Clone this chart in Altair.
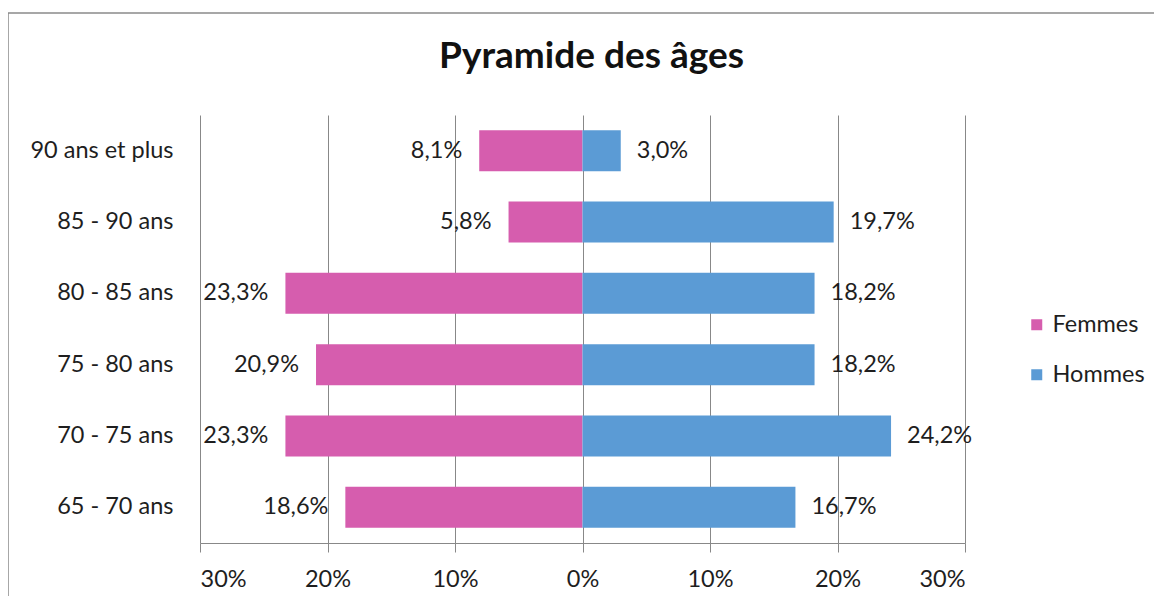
import altair as alt
import pandas as pd

ages = ["90 ans et plus", "85 - 90 ans", "80 - 85 ans", "75 - 80 ans", "70 - 75 ans", "65 - 70 ans"]
femmes = [8.1, 5.8, 23.3, 20.9, 23.3, 18.6]
hommes = [3.0, 19.7, 18.2, 18.2, 24.2, 16.7]
series = ["Femmes", "Hommes"]
colors = ["#D65DAE", "#5B9BD5"]
ticks = [-30, -20, -10, 0, 10, 20, 30]

rows = []
for a, f, h in zip(ages, femmes, hommes):
    rows.append({"age": a, "sexe": "Femmes", "v": -f})
    rows.append({"age": a, "sexe": "Hommes", "v": h})
df = pd.DataFrame(rows)

FONT = "Lato"
GRID = "#888888"
TXT = "#1e1e1e"
FS = 23.5

base = alt.Chart(df)

y_enc = alt.Y("age:N", sort=ages, title=None,
              scale=alt.Scale(paddingInner=0.425, paddingOuter=0.2125),
              axis=alt.Axis(domain=False, ticks=False, labelPadding=27,
                            labelFontSize=FS, labelColor=TXT, labelFont=FONT))

bars = base.mark_bar().encode(
    x=alt.X("v:Q", title=None,
            scale=alt.Scale(domain=[-30, 30], nice=False),
            axis=alt.Axis(values=ticks, labelExpr="abs(datum.value) + '%'",
                          grid=True, gridColor=GRID, domainColor=GRID, tickColor=GRID,
                          tickSize=9, labelPadding=15, labelFontSize=FS,
                          labelColor=TXT, labelFont=FONT)),
    y=y_enc,
    color=alt.Color("sexe:N", sort=series,
                    scale=alt.Scale(domain=series, range=colors),
                    legend=alt.Legend(title=None, orient="none", legendX=825, legendY=198,
                                      symbolType="square", symbolSize=121,
                                      symbolStrokeWidth=0, labelFontSize=FS,
                                      labelFont=FONT, labelColor=TXT,
                                      rowPadding=25, labelOffset=4)),
)

lab_expr = "replace(format(abs(datum.v), '.1f'), '.', ',') + '%'"

text_f = base.transform_filter("datum.sexe == 'Femmes'").transform_calculate(
    lab=lab_expr
).mark_text(align="right", baseline="middle", dx=-17, fontSize=FS, font=FONT,
            color=TXT).encode(x="v:Q", y=alt.Y("age:N", sort=ages), text="lab:N")

text_h = base.transform_filter("datum.sexe == 'Hommes'").transform_calculate(
    lab=lab_expr
).mark_text(align="left", baseline="middle", dx=16, fontSize=FS, font=FONT,
            color=TXT).encode(x="v:Q", y=alt.Y("age:N", sort=ages), text="lab:N")

frame = alt.Chart(alt.Data(values=[{}])).mark_rect(
    fill=None, stroke="#8a8a8a", strokeWidth=1.5
).encode(x=alt.value(-192), x2=alt.value(1000), y=alt.value(-102), y2=alt.value(600))

chart = alt.layer(frame, bars, text_f, text_h).properties(
    width=765, height=428,
    title=alt.TitleParams("Pyramide des âges", font=FONT, fontSize=37, fontWeight="bold",
                          color="#111111", anchor="middle", offset=-64, dx=9),
    autosize=alt.AutoSizeParams(type="none"),
    padding={"left": 192, "top": 107, "right": 189, "bottom": 53},
    background="white",
).configure_view(stroke=None)

chart.save("out.html", embed_options={"renderer": "svg", "actions": False})
